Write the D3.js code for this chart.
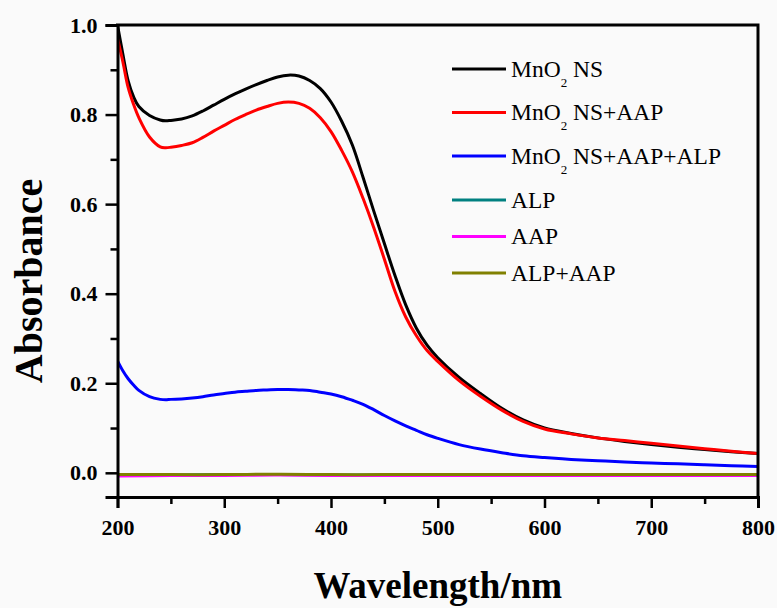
<!DOCTYPE html>
<html>
<head>
<meta charset="utf-8">
<script src="https://cdn.jsdelivr.net/npm/d3@7"></script>
<style>
  html, body { margin: 0; padding: 0; background: #ffffff; }
  svg { display: block; }
  text { font-family: "Liberation Serif", "Times New Roman", serif; }
</style>
</head>
<body>
<svg id="chart" width="777" height="608"></svg>
<script>
// Wavelength grid (nm) for the three MnO2 spectra
const wavelengths = [200, 205, 210, 215, 220, 230, 240, 245, 250, 260, 270, 280, 290, 300, 310, 320, 330, 340, 350, 360,
  370, 380, 390, 400, 410, 420, 430, 440, 450, 460, 470, 480, 490, 500, 520, 540, 560, 580, 600, 625,
  650, 675, 700, 725, 750, 775, 800];

const mnO2NS = [1.000, 0.935, 0.875, 0.840, 0.818, 0.798, 0.788, 0.786, 0.787, 0.790, 0.797, 0.808, 0.821, 0.834, 0.846, 0.857, 0.867, 0.876, 0.884, 0.888,
  0.886, 0.876, 0.858, 0.828, 0.785, 0.732, 0.660, 0.585, 0.512, 0.440, 0.375, 0.323, 0.285, 0.257, 0.213, 0.177, 0.144, 0.118, 0.100, 0.088,
  0.078, 0.070, 0.063, 0.057, 0.052, 0.047, 0.043];

const mnO2NS_AAP = [0.970, 0.918, 0.860, 0.823, 0.793, 0.750, 0.728, 0.726, 0.727, 0.731, 0.737, 0.749, 0.763, 0.776, 0.789, 0.800, 0.810, 0.818, 0.825, 0.828,
  0.825, 0.814, 0.793, 0.762, 0.720, 0.672, 0.613, 0.548, 0.477, 0.405, 0.348, 0.306, 0.273, 0.249, 0.206, 0.171, 0.140, 0.115, 0.098, 0.087,
  0.078, 0.072, 0.066, 0.060, 0.054, 0.048, 0.043];

const mnO2NS_AAP_ALP = [0.250, 0.228, 0.210, 0.196, 0.184, 0.170, 0.164, 0.163, 0.164, 0.165, 0.167, 0.170, 0.174, 0.177, 0.180, 0.182, 0.184, 0.185, 0.186, 0.186,
  0.185, 0.184, 0.180, 0.176, 0.170, 0.162, 0.153, 0.141, 0.128, 0.116, 0.105, 0.095, 0.085, 0.077, 0.063, 0.053, 0.045, 0.038, 0.034, 0.030,
  0.027, 0.024, 0.022, 0.020, 0.018, 0.016, 0.014];

// Coarser grid for the flat control spectra
const controlWavelengths = [200, 250, 300, 350, 400, 450, 500, 550, 600, 650, 700, 750, 800];
const alp     = [-0.005, -0.005, -0.004, -0.004, -0.005, -0.005, -0.005, -0.005, -0.005, -0.005, -0.005, -0.005, -0.005];
const aap     = [-0.007, -0.006, -0.006, -0.005, -0.006, -0.006, -0.006, -0.006, -0.006, -0.006, -0.006, -0.006, -0.006];
const alp_aap = [-0.004, -0.004, -0.004, -0.003, -0.004, -0.004, -0.004, -0.004, -0.004, -0.004, -0.004, -0.004, -0.004];

const seriesNames = ["MnO2 NS", "MnO2 NS+AAP", "MnO2 NS+AAP+ALP", "ALP", "AAP", "ALP+AAP"];
const seriesColors = ["#000000", "#ff0000", "#0000ff", "#008080", "#ff00ff", "#808000"];

const xMajorTicks = [200, 300, 400, 500, 600, 700, 800];
const xMinorTicks = [250, 350, 450, 550, 650, 750];
const yMajorTicks = [0.0, 0.2, 0.4, 0.6, 0.8, 1.0];
const yMinorTicks = [0.1, 0.3, 0.5, 0.7, 0.9];

const series = [
  { name: seriesNames[0], color: seriesColors[0], xs: wavelengths, ys: mnO2NS },
  { name: seriesNames[1], color: seriesColors[1], xs: wavelengths, ys: mnO2NS_AAP },
  { name: seriesNames[2], color: seriesColors[2], xs: wavelengths, ys: mnO2NS_AAP_ALP },
  { name: seriesNames[3], color: seriesColors[3], xs: controlWavelengths, ys: alp },
  { name: seriesNames[4], color: seriesColors[4], xs: controlWavelengths, ys: aap },
  { name: seriesNames[5], color: seriesColors[5], xs: controlWavelengths, ys: alp_aap }
];

const svg = d3.select("#chart");
const W = 777, H = 608;
const plot = { left: 117.5, right: 758, top: 25, bottom: 497 };

svg.append("rect").attr("width", W).attr("height", H).attr("fill", "#fafafa");

const x = d3.scaleLinear().domain([200, 800]).range([plot.left, plot.right]);
const y = d3.scaleLinear().domain([-0.054, 1.0]).range([plot.bottom, plot.top]);

svg.append("defs").append("clipPath").attr("id", "plotClip")
  .append("rect")
  .attr("x", plot.left).attr("y", plot.top - 2)
  .attr("width", plot.right - plot.left).attr("height", plot.bottom - plot.top + 2);

// Spectra (drawn in order so the last control curve sits on top)
const line = d3.line().curve(d3.curveCatmullRom.alpha(0.5));
const curves = svg.append("g").attr("clip-path", "url(#plotClip)");
series.forEach(s => {
  const pts = s.xs.map((w, i) => [x(w), y(s.ys[i])]);
  curves.append("path")
    .attr("d", line(pts))
    .attr("fill", "none")
    .attr("stroke", s.color)
    .attr("stroke-width", 3)
    .attr("stroke-linejoin", "round");
});

// Axes
const tickFont = g => g.selectAll("text")
  .attr("font-family", "'Liberation Serif', 'Times New Roman', serif")
  .attr("font-size", 22).attr("font-weight", "bold").attr("fill", "#000");

svg.append("g").attr("transform", `translate(0,${plot.bottom})`)
  .call(d3.axisBottom(x).tickValues(xMajorTicks).tickFormat(d3.format("d")).tickSize(11).tickPadding(11))
  .call(tickFont);
svg.append("g").attr("transform", `translate(0,${plot.bottom})`)
  .call(d3.axisBottom(x).tickValues(xMinorTicks).tickFormat("").tickSize(7))
  .call(g => g.select(".domain").remove());

svg.append("g").attr("transform", `translate(${plot.left},0)`)
  .call(d3.axisLeft(y).tickValues(yMajorTicks).tickFormat(d3.format(".1f")).tickSize(12).tickPadding(8))
  .call(tickFont);
svg.append("g").attr("transform", `translate(${plot.left},0)`)
  .call(d3.axisLeft(y).tickValues(yMinorTicks).tickFormat("").tickSize(7))
  .call(g => g.select(".domain").remove());

svg.selectAll(".tick line").attr("stroke", "#000").attr("stroke-width", 2.5);
svg.selectAll(".domain").attr("stroke", "#000").attr("stroke-width", 3);

// Top and right frame
svg.append("path")
  .attr("d", `M${plot.left},${plot.top}H${plot.right}V${plot.bottom}`)
  .attr("fill", "none").attr("stroke", "#000").attr("stroke-width", 3)
  .attr("stroke-linecap", "square");

// Axis titles
svg.append("text")
  .attr("x", (plot.left + plot.right) / 2).attr("y", 598)
  .attr("text-anchor", "middle")
  .attr("font-size", 37).attr("font-weight", "bold")
  .text("Wavelength/nm");

svg.append("text")
  .attr("transform", "translate(42,281) rotate(-90)")
  .attr("text-anchor", "middle")
  .attr("font-size", 40).attr("font-weight", "bold")
  .text("Absorbance");

// Legend
const legendRows = [69, 112.5, 156, 200, 236.5, 273];
const legend = svg.append("g");
series.forEach((s, i) => {
  const ly = legendRows[i];
  legend.append("line")
    .attr("x1", 452).attr("x2", 506).attr("y1", ly).attr("y2", ly)
    .attr("stroke", s.color).attr("stroke-width", 3);
  const t = legend.append("text")
    .attr("x", 511).attr("y", ly).attr("dy", "0.33em")
    .attr("font-size", 23.5).attr("fill", "#000");
  if (s.name.startsWith("MnO2")) {
    t.append("tspan").text("MnO");
    t.append("tspan").attr("font-size", 13).attr("dy", 10).text("2");
    t.append("tspan").attr("dy", -10).text(s.name.slice(4));
  } else {
    t.text(s.name);
  }
});
</script>
</body>
</html>
